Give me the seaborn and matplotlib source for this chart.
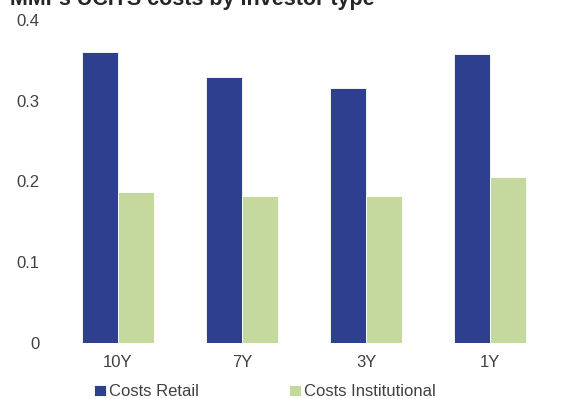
import pandas as pd
import seaborn as sns
import matplotlib.pyplot as plt

# data
maturities = ["10Y", "7Y", "3Y", "1Y"]
costs_retail = [0.360, 0.329, 0.316, 0.358]
costs_institutional = [0.187, 0.182, 0.182, 0.206]

df = pd.DataFrame({
    "maturity": maturities * 2,
    "cost": costs_retail + costs_institutional,
    "series": ["Costs Retail"] * 4 + ["Costs Institutional"] * 4,
})

sns.set_theme(style="white")
plt.rcParams["font.family"] = ["Liberation Sans", "DejaVu Sans"]
text_col = "#404040"

fig = plt.figure(figsize=(5.68, 3.99), dpi=100)
ax = fig.add_axes([0.0986, 0.1404, 0.8733, 0.8095])

palette = {"Costs Retail": "#2E3F8F", "Costs Institutional": "#C5D89D"}
sns.barplot(data=df, x="maturity", y="cost", hue="series", order=maturities,
            palette=palette, width=0.58, ax=ax, saturation=1,
            edgecolor="white", linewidth=0.6)

ax.set_ylim(0, 0.4)
ax.set_yticks([0, 0.1, 0.2, 0.3, 0.4])
ax.set_yticklabels(["0", "0.1", "0.2", "0.3", "0.4"])
ax.set_xlabel("")
ax.set_ylabel("")
ax.tick_params(axis="both", length=0, labelsize=12, labelcolor=text_col)
ax.tick_params(axis="y", pad=12)
ax.tick_params(axis="x", pad=9)
for s in ax.spines.values():
    s.set_visible(False)

handles, labels = ax.get_legend_handles_labels()
ax.legend_.remove()
fig.legend(handles, labels, loc="center", bbox_to_anchor=(0.467, 0.018), ncol=2,
           frameon=False, fontsize=12, labelcolor=text_col,
           handlelength=0.7, handleheight=0.7, handletextpad=0.2,
           columnspacing=5.4)

# title is partly clipped by the top edge, as in the source image
fig.text(0.018, 1 - 4.5 / 399, "MMFs UCITS costs by investor type",
         fontsize=15.5, fontweight="bold", color="#262626", va="baseline")

fig.savefig("out.png", dpi=100)
